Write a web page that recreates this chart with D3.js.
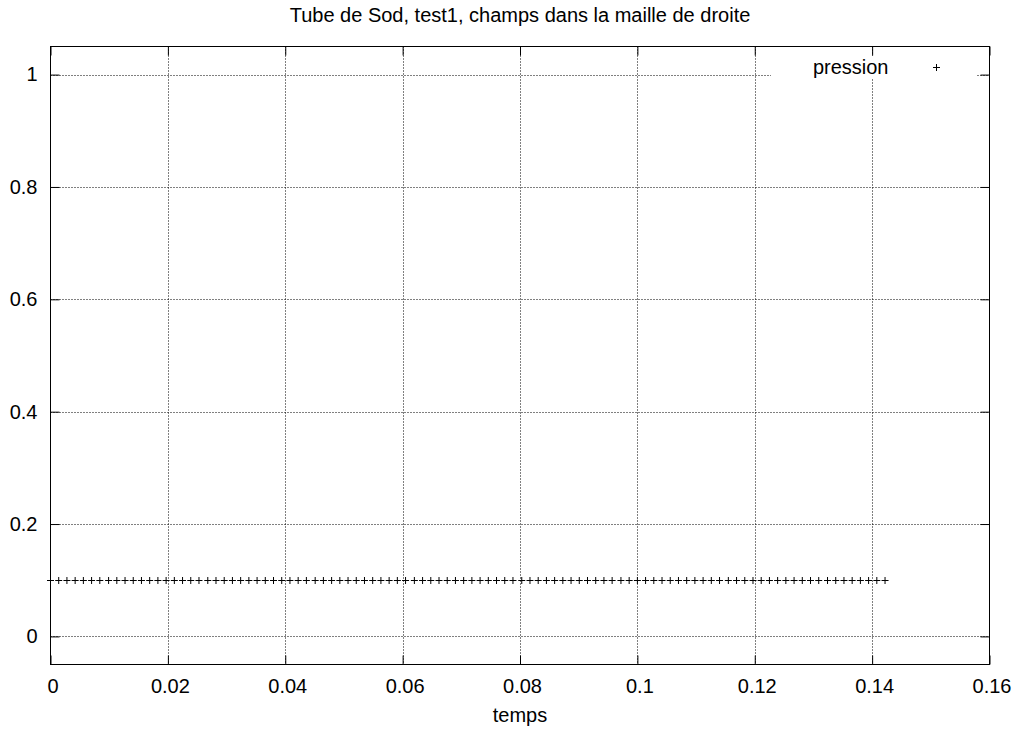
<!DOCTYPE html>
<html><head><meta charset="utf-8">
<script src="https://cdn.jsdelivr.net/npm/d3@7"></script>
<style>
body{margin:0;background:#fff;}
text{font-family:"Liberation Sans",Arial,sans-serif;}
</style></head>
<body>
<svg id="c" width="1019" height="733"></svg>
<script>
const title = "Tube de Sod, test1, champs dans la maille de droite";
const xLabel = "temps";
const seriesName = "pression";
const xTicks = [0, 0.02, 0.04, 0.06, 0.08, 0.1, 0.12, 0.14, 0.16];
const yTicks = [0, 0.2, 0.4, 0.6, 0.8, 1];
const temps = [0.0000,0.0014,0.0028,0.0042,0.0056,0.0070,0.0084,0.0099,0.0113,0.0127,
0.0141,0.0155,0.0169,0.0183,0.0197,0.0211,0.0225,0.0239,0.0253,0.0268,
0.0282,0.0296,0.0310,0.0324,0.0338,0.0352,0.0366,0.0380,0.0394,0.0408,
0.0422,0.0436,0.0451,0.0465,0.0479,0.0493,0.0507,0.0521,0.0535,0.0549,
0.0563,0.0577,0.0591,0.0605,0.0620,0.0634,0.0648,0.0662,0.0676,0.0690,
0.0704,0.0718,0.0732,0.0746,0.0760,0.0774,0.0788,0.0803,0.0817,0.0831,
0.0845,0.0859,0.0873,0.0887,0.0901,0.0915,0.0929,0.0943,0.0957,0.0972,
0.0986,0.1000,0.1014,0.1028,0.1042,0.1056,0.1070,0.1084,0.1098,0.1112,
0.1126,0.1140,0.1155,0.1169,0.1183,0.1197,0.1211,0.1225,0.1239,0.1253,
0.1267,0.1281,0.1295,0.1309,0.1324,0.1338,0.1352,0.1366,0.1380,0.1394,
0.1408,0.1422];
const pression = [0.1,0.1,0.1,0.1,0.1,0.1,0.1,0.1,0.1,0.1,
0.1,0.1,0.1,0.1,0.1,0.1,0.1,0.1,0.1,0.1,
0.1,0.1,0.1,0.1,0.1,0.1,0.1,0.1,0.1,0.1,
0.1,0.1,0.1,0.1,0.1,0.1,0.1,0.1,0.1,0.1,
0.1,0.1,0.1,0.1,0.1,0.1,0.1,0.1,0.1,0.1,
0.1,0.1,0.1,0.1,0.1,0.1,0.1,0.1,0.1,0.1,
0.1,0.1,0.1,0.1,0.1,0.1,0.1,0.1,0.1,0.1,
0.1,0.1,0.1,0.1,0.1,0.1,0.1,0.1,0.1,0.1,
0.1,0.1,0.1,0.1,0.1,0.1,0.1,0.1,0.1,0.1,
0.1,0.1,0.1,0.1,0.1,0.1,0.1,0.1,0.1,0.1,
0.1,0.1];

const W = 1019, H = 733, FS = 20;
const m = {left: 50.5, right: 29.5, top: 46.5, bottom: 68.5};
const svg = d3.select("#c");
const x = d3.scaleLinear().domain([0, 0.16]).range([m.left, W - m.right]);
const y = d3.scaleLinear().domain([-0.05, 1.05]).range([H - m.bottom, m.top]);
const fmt = d => String(+d.toFixed(2));

// grid
const g = svg.append("g");
g.selectAll(".gx").data(xTicks.filter(d => d > 0 && d < 0.16)).join("line")
  .attr("x1", d => Math.round(x(d)) + 0.5).attr("x2", d => Math.round(x(d)) + 0.5)
  .attr("y1", y(1.05)).attr("y2", y(-0.05))
  .attr("stroke", "#000").attr("stroke-width", 1).attr("stroke-dasharray", "1,2");
g.selectAll(".gy").data(yTicks).join("line")
  .attr("y1", d => Math.round(y(d)) + 0.5).attr("y2", d => Math.round(y(d)) + 0.5)
  .attr("x1", x(0)).attr("x2", x(0.16))
  .attr("stroke", "#000").attr("stroke-width", 1).attr("stroke-dasharray", "1,2");

// legend background (key covers grid)
svg.append("rect").attr("x", 771).attr("y", 56).attr("width", 205).attr("height", 22).attr("fill", "#fff");

// axes with inward ticks
const tl = 9;
const axB = d3.axisBottom(x).tickValues(xTicks).tickSize(-tl).tickPadding(14).tickFormat(fmt);
const axT = d3.axisTop(x).tickValues(xTicks).tickSize(-tl).tickFormat("");
const axL = d3.axisLeft(y).tickValues(yTicks).tickSize(-tl).tickPadding(13).tickFormat(fmt);
const axR = d3.axisRight(y).tickValues(yTicks).tickSize(-tl).tickFormat("");
function style(sel){
  sel.select(".domain").remove();
  sel.selectAll(".tick line").attr("stroke", "#000");
  sel.selectAll("text").attr("fill", "#000").attr("font-size", FS)
    .attr("font-family", "'Liberation Sans', Arial, sans-serif");
}
svg.append("g").attr("transform", `translate(0,${y(-0.05)})`).call(axB).call(style)
  .selectAll("text").attr("dx", 2);
svg.append("g").attr("transform", `translate(0,${y(1.05)})`).call(axT).call(style);
svg.append("g").attr("transform", `translate(${x(0)},0)`).call(axL).call(style);
svg.append("g").attr("transform", `translate(${x(0.16)},0)`).call(axR).call(style);

// frame
svg.append("rect").attr("x", x(0)).attr("y", y(1.05))
  .attr("width", x(0.16) - x(0)).attr("height", y(-0.05) - y(1.05))
  .attr("fill", "none").attr("stroke", "#000").attr("stroke-width", 1);

// points
const s = 3.5;
const pts = svg.append("g").attr("stroke", "#000").attr("stroke-width", 1);
temps.forEach((t, i) => {
  const px = x(t), py = Math.round(y(pression[i])) + 0.5;
  pts.append("path").attr("d", `M${px - s},${py}H${px + s}M${px},${py - s}V${py + s}`);
});

// legend
svg.append("text").attr("x", 888.5).attr("y", 73.5).attr("text-anchor", "end")
  .attr("font-size", FS).text(seriesName);
const lx = 936.5, ly = 67.5;
svg.append("path").attr("stroke", "#000").attr("d", `M${lx - s},${ly}H${lx + s}M${lx},${ly - s}V${ly + s}`);

// title & label
svg.append("text").attr("x", 520).attr("y", 21.5).attr("text-anchor", "middle").attr("font-size", FS).text(title);
svg.append("text").attr("x", 520).attr("y", 722).attr("text-anchor", "middle").attr("font-size", FS).text(xLabel);
</script>
</body></html>
